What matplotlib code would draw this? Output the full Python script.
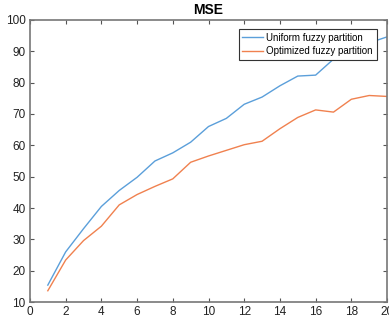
import numpy as np
import matplotlib.pyplot as plt

plt.rcParams['font.family'] = ['Liberation Sans', 'DejaVu Sans']

x = list(range(1, 21))
uniform = [15.4, 26.0, 33.4, 40.5, 45.6, 49.8, 55.0, 57.6, 61.0, 66.0,
           68.6, 73.1, 75.4, 79.0, 82.1, 82.4, 87.5, 91.0, 92.7, 94.6]
optimized = [13.6, 23.4, 29.6, 34.2, 41.0, 44.3, 46.9, 49.3, 54.6, 56.6,
             58.4, 60.2, 61.3, 65.3, 68.9, 71.3, 70.6, 74.7, 75.9, 75.6]

fig = plt.figure(figsize=(3.89, 3.22), dpi=100)
ax = fig.add_axes([0.077, 0.062, 0.918, 0.876])

ax.plot(x, uniform, color='#5B9FDA', lw=1.0, label='Uniform fuzzy partition')
ax.plot(x, optimized, color='#F0814F', lw=1.0, label='Optimized fuzzy partition')

ax.set_xlim(0, 20)
ax.set_ylim(10, 100)
ax.set_xticks(range(0, 21, 2))
ax.set_yticks(range(10, 101, 10))
ax.tick_params(direction='in', top=True, right=True, length=3, width=0.8,
               colors='#555555', labelcolor='#222222', labelsize=8.5, pad=3)
for s in ax.spines.values():
    s.set_color('#777777')
    s.set_linewidth(1.2)

ax.set_title('MSE', fontsize=10, fontweight='bold', pad=4)

leg = ax.legend(loc='upper right', bbox_to_anchor=(0.971, 0.968), fontsize=7.0,
                fancybox=False, framealpha=1, edgecolor='#333333',
                borderpad=0.4, labelspacing=0.35, handlelength=2.1,
                handletextpad=0.35, borderaxespad=0)
leg.get_frame().set_linewidth(0.8)

fig.savefig('out.png', dpi=100)
